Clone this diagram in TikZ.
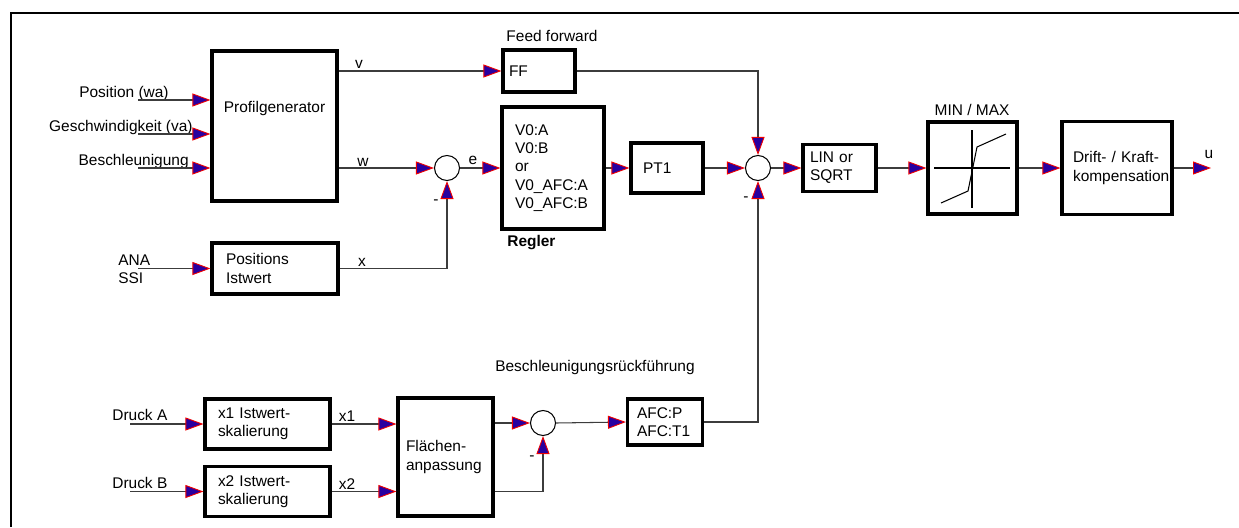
\documentclass[tikz,border=0pt]{standalone}
\usepackage{fontspec}
\setmainfont{Liberation Sans}
\usepackage{tikz}
\usetikzlibrary{arrows.meta,calc}
\hyphenpenalty=10000
\definecolor{TipBlue}{RGB}{40,0,160}
\definecolor{TipRed}{RGB}{240,0,0}
\definecolor{WireGray}{RGB}{60,60,60}
\tikzset{
    fnt/.style={font=\fontsize{8.8}{10.4}\selectfont},
    blk/.style={draw, line width=1.8pt, align=left, inner ysep=0pt, fnt},
    sumpt/.style={draw, circle, line width=0.6pt, minimum size=0.5cm, inner sep=0pt},
    lbl/.style={inner sep=0pt, fnt},
    wire/.style={line width=0.6pt, draw=WireGray},
    arr/.style={wire, -{Triangle[length=3.6mm, width=2.6mm, color=TipRed, fill=TipBlue, line width=0.5pt]}},
    frame/.style={line width=1.2pt},
}

\begin{document}
\begin{tikzpicture}[x=0.02cm, y=-0.02cm]
\useasboundingbox (0,0) rectangle (1239,527);
\draw[frame] (11,527) -- (11,13) -- (1239,13);

% blocks
\node[blk, minimum width=2.5cm, minimum height=3cm, label={[lbl, yshift=0.36cm]center:Profilgenerator}] (pg) at (274.5,126) {};
\node[blk, text width=1.96cm, inner xsep=0.28cm, minimum height=1.02cm] (pos) at (275,268.5) {Positions\\Istwert};
\node[blk, text width=1.2cm, inner xsep=0.12cm, minimum height=0.84cm] (ff) at (539,71) {FF};
\node[blk, text width=1.52cm, inner xsep=0.26cm, minimum height=2.44cm] (reg) at (553,168) {V0:A\\V0:B\\or\\V0\_AFC:A\\V0\_AFC:B};
\node[blk, text width=0.96cm, inner xsep=0.24cm, minimum height=1cm] (pt1) at (667,168) {PT1};
\node[sumpt] (s1) at (447,168) {};
\node[sumpt] (s2) at (758,168) {};
\node[blk, text width=1.18cm, inner xsep=0.14cm, minimum height=0.94cm] (lin) at (839.5,168) {LIN or\\SQRT};
\node[blk, minimum width=1.78cm, minimum height=1.84cm] (mm) at (972.5,168) {};
\node[blk, text width=1.76cm, inner xsep=0.22cm, minimum height=1.86cm] (drift) at (1117,168) {Drift- / Kraft-\\kompensation};
\node[blk, text width=1.98cm, inner xsep=0.26cm, minimum height=1cm] (xa) at (267.5,424) {x1 Istwert-\\skalierung};
\node[blk, text width=1.98cm, inner xsep=0.26cm, minimum height=1cm] (xb) at (267.5,491.5) {x2 Istwert-\\skalierung};
\node[blk, text width=1.58cm, inner xsep=0.16cm, minimum height=2.36cm] (fl) at (445.5,457) {Flächen-\\anpassung};
\node[sumpt] (s3) at (543,423) {};
\node[blk, text width=1.12cm, inner xsep=0.19cm, minimum height=0.92cm] (afc) at (665,422) {AFC:P\\AFC:T1};

% MIN / MAX characteristic
\begin{scope}[shift={(mm.center)}, line width=0.6pt]
\draw (-38.5,0) -- (37.5,0);
\draw (-0.5,-38) -- (-0.5,40);
\draw (-31.5,35) -- (-4.5,23) -- (4.5,-21) -- (33.5,-34);
\end{scope}

% free ends
\coordinate (ipos) at (138,100);
\coordinate (igesch) at (138,134);
\coordinate (ibesch) at (138,168);
\coordinate (iana) at (138,268.5);
\coordinate (idra) at (130,424);
\coordinate (idrb) at (130,491.5);
\coordinate (uout) at (1211,168);

% texts
\node[lbl, anchor=base east] (lpos) at (169,97) {Position (wa)};
\node[lbl, anchor=base east] (lgesch) at (193,131) {Geschwindigkeit (va)};
\node[lbl, anchor=base east] (lbesch) at (189,165) {Beschleunigung};
\node[lbl, anchor=west, align=left] (lana) at (118,269) {ANA\\SSI};
\node[lbl, anchor=base west] (ldra) at (112,420) {Druck A};
\node[lbl, anchor=base west] (ldrb) at (112,488) {Druck B};
\node[lbl, anchor=base] (lv) at (359,69) {v};
\node[lbl, anchor=base] (lw) at (363,166) {w};
\node[lbl, anchor=base] (lx) at (362,266) {x};
\node[lbl, anchor=base] (le) at (473,164) {e};
\node[lbl, anchor=base] (lu) at (1209,158) {u};
\node[lbl, anchor=base] (lx1) at (347,421) {x1};
\node[lbl, anchor=base] (lx2) at (347,489) {x2};
\node[lbl] (m1) at (436,202) {-};
\node[lbl] (m2) at (746,199) {-};
\node[lbl] (m3) at (532,458) {-};
\node[lbl] (lff) at (552,36) {Feed forward};
\node[lbl, anchor=west] (lreg) at (507,243) {\textbf{Regler}};
\node[lbl] (lmm) at (972,110) {MIN / MAX};
\node[lbl] (lbr) at (595,367) {Beschleunigungsrückführung};

% connections
\draw[arr] (ipos) -- (ipos -| pg.west);
\draw[arr] (igesch) -- (igesch -| pg.west);
\draw[arr] (ibesch) -- (ibesch -| pg.west);
\draw[arr] (iana) -- (pos.west);
\draw[arr] (pg.east |- ff.west) -- (ff.west);
\draw[arr] (pg.east |- s1.west) -- (s1.west);
\draw[arr] (pos.east) -| (s1.south);
\draw[arr] (s1.east) -- (reg.west);
\draw[arr] (reg.east) -- (pt1.west);
\draw[arr] (pt1.east) -- (s2.west);
\draw[arr] (ff.east) -| (s2.north);
\draw[arr] (s2.east) -- (lin.west);
\draw[arr] (lin.east) -- (mm.west);
\draw[arr] (mm.east) -- (drift.west);
\draw[arr] (drift.east) -- (uout);
\draw[arr] (idra) -- (xa.west);
\draw[arr] (idrb) -- (xb.west);
\draw[arr] (xa.east) -- (xa.east -| fl.west);
\draw[arr] (xb.east) -- (xb.east -| fl.west);
\draw[arr] (fl.east |- s3.west) -- (s3.west);
\draw[arr] (fl.east |- xb.east) -| (s3.south);
\draw[arr] (s3.east) -- (afc.west);
\draw[arr] (afc.east) -| (s2.south);
\end{tikzpicture}
\end{document}
